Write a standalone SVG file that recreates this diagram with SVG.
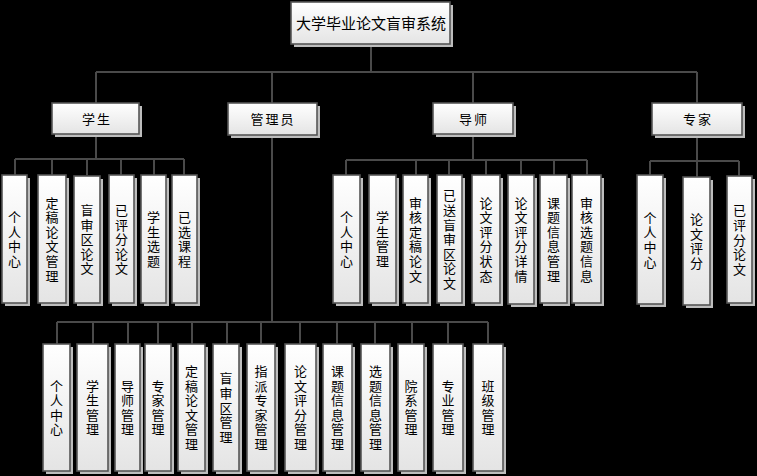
<svg xmlns="http://www.w3.org/2000/svg" width="757" height="476" viewBox="0 0 757 476">
<defs>
<linearGradient id="g" x1="0" y1="0" x2="0" y2="1">
<stop offset="0" stop-color="#ffffff"/>
<stop offset="1" stop-color="#e4e4e4"/>
</linearGradient>
<style>
.sh{fill:#bdbdbd}
.bx{fill:url(#g);stroke:#555;stroke-width:1.6}
.ln{fill:none;stroke:#4a4a4a;stroke-width:2}
text{font-family:"Liberation Sans","Noto Sans CJK SC","Noto Sans CJK JP",sans-serif;fill:#000;text-anchor:middle;dominant-baseline:central}
.t0{font-size:15px}
.t1{font-size:13px;letter-spacing:2px}
.t2{font-size:13px}
</style>
</defs>
<rect width="757" height="476" fill="#000"/>
<g id="connectors" class="ln">
<path d="M371 44V72M96 72H697M96 72V103M272 72V103M473 72V103M697 72V103"/>
<path d="M96 134V159M15 159H184M15 159V175M52 159V175M87 159V175M121 159V175M154 159V175M184 159V175"/>
<path d="M272 135V322M57 322H488M57 322V344M93 322V344M128 322V344M158 322V344M192 322V344M227 322V344M261 322V344M300 322V344M337 322V344M375 322V344M412 322V344M448 322V344M488 322V344"/>
<path d="M473 134V160M346 160H587M346 160V175M416 160V175M449 160V175M486 160V175M521 160V175M554 160V175M587 160V175"/>
<path d="M697 135V161M650 161H739M650 161V175M697 161V177M739 161V176"/>
</g>
<g id="root"><rect class="sh" x="294" y="5" width="159" height="42"/><rect class="bx" x="291" y="2" width="159" height="42"/><text class="t0" x="371" y="23">大学毕业论文盲审系统</text></g>
<g id="student"><rect class="sh" x="55" y="106" width="87" height="31"/><rect class="bx" x="52" y="103" width="87" height="31"/><text class="t1" x="97" y="119">学生</text></g>
<g id="admin"><rect class="sh" x="231" y="106" width="89" height="32"/><rect class="bx" x="228" y="103" width="89" height="32"/><text class="t1" x="273" y="119">管理员</text></g>
<g id="tutor"><rect class="sh" x="436" y="106" width="80" height="31"/><rect class="bx" x="433" y="103" width="80" height="31"/><text class="t1" x="474" y="119">导师</text></g>
<g id="expert"><rect class="sh" x="655" y="106" width="90" height="32"/><rect class="bx" x="652" y="103" width="90" height="32"/><text class="t1" x="698" y="119">专家</text></g>

<g id="s1"><rect class="sh" x="5" y="178" width="25" height="128"/><rect class="bx" x="2" y="175" width="25" height="128"/><text class="t2"><tspan x="14.5" y="217.2">个</tspan><tspan x="14.5" y="231.8">人</tspan><tspan x="14.5" y="246.4">中</tspan><tspan x="14.5" y="261">心</tspan></text></g>
<g id="s2"><rect class="sh" x="41" y="178" width="28" height="128"/><rect class="bx" x="38" y="175" width="28" height="128"/><text class="t2"><tspan x="52" y="202.6">定</tspan><tspan x="52" y="217.2">稿</tspan><tspan x="52" y="231.8">论</tspan><tspan x="52" y="246.4">文</tspan><tspan x="52" y="261">管</tspan><tspan x="52" y="275.6">理</tspan></text></g>
<g id="s3"><rect class="sh" x="77" y="179" width="26" height="127"/><rect class="bx" x="74" y="176" width="26" height="127"/><text class="t2"><tspan x="87" y="209.9">盲</tspan><tspan x="87" y="224.5">审</tspan><tspan x="87" y="239.1">区</tspan><tspan x="87" y="253.7">论</tspan><tspan x="87" y="268.3">文</tspan></text></g>
<g id="s4"><rect class="sh" x="112" y="178" width="25" height="128"/><rect class="bx" x="109" y="175" width="25" height="128"/><text class="t2"><tspan x="121.5" y="209.9">已</tspan><tspan x="121.5" y="224.5">评</tspan><tspan x="121.5" y="239.1">分</tspan><tspan x="121.5" y="253.7">论</tspan><tspan x="121.5" y="268.3">文</tspan></text></g>
<g id="s5"><rect class="sh" x="144" y="178" width="25" height="128"/><rect class="bx" x="141" y="175" width="25" height="128"/><text class="t2"><tspan x="153.5" y="217.2">学</tspan><tspan x="153.5" y="231.8">生</tspan><tspan x="153.5" y="246.4">选</tspan><tspan x="153.5" y="261">题</tspan></text></g>
<g id="s6"><rect class="sh" x="175" y="178" width="25" height="128"/><rect class="bx" x="172" y="175" width="25" height="128"/><text class="t2"><tspan x="184.5" y="217.2">已</tspan><tspan x="184.5" y="231.8">选</tspan><tspan x="184.5" y="246.4">课</tspan><tspan x="184.5" y="261">程</tspan></text></g>

<g id="t1"><rect class="sh" x="336" y="178" width="27" height="128"/><rect class="bx" x="333" y="175" width="27" height="128"/><text class="t2"><tspan x="346.5" y="217.2">个</tspan><tspan x="346.5" y="231.8">人</tspan><tspan x="346.5" y="246.4">中</tspan><tspan x="346.5" y="261">心</tspan></text></g>
<g id="t2"><rect class="sh" x="372" y="178" width="27" height="128"/><rect class="bx" x="369" y="175" width="27" height="128"/><text class="t2"><tspan x="382.5" y="217.2">学</tspan><tspan x="382.5" y="231.8">生</tspan><tspan x="382.5" y="246.4">管</tspan><tspan x="382.5" y="261">理</tspan></text></g>
<g id="t3"><rect class="sh" x="406" y="178" width="25" height="128"/><rect class="bx" x="403" y="175" width="25" height="128"/><text class="t2"><tspan x="415.5" y="202.6">审</tspan><tspan x="415.5" y="217.2">核</tspan><tspan x="415.5" y="231.8">定</tspan><tspan x="415.5" y="246.4">稿</tspan><tspan x="415.5" y="261">论</tspan><tspan x="415.5" y="275.6">文</tspan></text></g>
<g id="t4"><rect class="sh" x="440" y="178" width="25" height="128"/><rect class="bx" x="437" y="175" width="25" height="128"/><text class="t2"><tspan x="449.5" y="195.3">已</tspan><tspan x="449.5" y="209.9">送</tspan><tspan x="449.5" y="224.5">盲</tspan><tspan x="449.5" y="239.1">审</tspan><tspan x="449.5" y="253.7">区</tspan><tspan x="449.5" y="268.3">论</tspan><tspan x="449.5" y="282.9">文</tspan></text></g>
<g id="t5"><rect class="sh" x="475" y="178" width="28" height="128"/><rect class="bx" x="472" y="175" width="28" height="128"/><text class="t2"><tspan x="486" y="202.6">论</tspan><tspan x="486" y="217.2">文</tspan><tspan x="486" y="231.8">评</tspan><tspan x="486" y="246.4">分</tspan><tspan x="486" y="261">状</tspan><tspan x="486" y="275.6">态</tspan></text></g>
<g id="t6"><rect class="sh" x="511" y="178" width="26" height="129"/><rect class="bx" x="508" y="175" width="26" height="129"/><text class="t2"><tspan x="521" y="202.6">论</tspan><tspan x="521" y="217.2">文</tspan><tspan x="521" y="231.8">评</tspan><tspan x="521" y="246.4">分</tspan><tspan x="521" y="261">详</tspan><tspan x="521" y="275.6">情</tspan></text></g>
<g id="t7"><rect class="sh" x="543" y="178" width="27" height="128"/><rect class="bx" x="540" y="175" width="27" height="128"/><text class="t2"><tspan x="553.5" y="202.6">课</tspan><tspan x="553.5" y="217.2">题</tspan><tspan x="553.5" y="231.8">信</tspan><tspan x="553.5" y="246.4">息</tspan><tspan x="553.5" y="261">管</tspan><tspan x="553.5" y="275.6">理</tspan></text></g>
<g id="t8"><rect class="sh" x="575" y="178" width="29" height="128"/><rect class="bx" x="572" y="175" width="29" height="128"/><text class="t2"><tspan x="586.5" y="202.6">审</tspan><tspan x="586.5" y="217.2">核</tspan><tspan x="586.5" y="231.8">选</tspan><tspan x="586.5" y="246.4">题</tspan><tspan x="586.5" y="261">信</tspan><tspan x="586.5" y="275.6">息</tspan></text></g>

<g id="e1"><rect class="sh" x="640" y="178" width="26" height="129"/><rect class="bx" x="637" y="175" width="26" height="129"/><text class="t2"><tspan x="650" y="217.7">个</tspan><tspan x="650" y="232.3">人</tspan><tspan x="650" y="246.9">中</tspan><tspan x="650" y="261.5">心</tspan></text></g>
<g id="e2"><rect class="sh" x="686" y="180" width="27" height="128"/><rect class="bx" x="683" y="177" width="27" height="128"/><text class="t2"><tspan x="696.5" y="219.2">论</tspan><tspan x="696.5" y="233.8">文</tspan><tspan x="696.5" y="248.4">评</tspan><tspan x="696.5" y="263">分</tspan></text></g>
<g id="e3"><rect class="sh" x="730" y="179" width="25" height="127"/><rect class="bx" x="727" y="176" width="25" height="127"/><text class="t2"><tspan x="739.5" y="210.4">已</tspan><tspan x="739.5" y="225">评</tspan><tspan x="739.5" y="239.6">分</tspan><tspan x="739.5" y="254.2">论</tspan><tspan x="739.5" y="268.8">文</tspan></text></g>

<g id="a1"><rect class="sh" x="46" y="347" width="27" height="127"/><rect class="bx" x="43" y="344" width="27" height="127"/><text class="t2"><tspan x="56.5" y="385.6">个</tspan><tspan x="56.5" y="400.2">人</tspan><tspan x="56.5" y="414.8">中</tspan><tspan x="56.5" y="429.4">心</tspan></text></g>
<g id="a2"><rect class="sh" x="80" y="347" width="31" height="127"/><rect class="bx" x="77" y="344" width="31" height="127"/><text class="t2"><tspan x="92.5" y="385.6">学</tspan><tspan x="92.5" y="400.2">生</tspan><tspan x="92.5" y="414.8">管</tspan><tspan x="92.5" y="429.4">理</tspan></text></g>
<g id="a3"><rect class="sh" x="118" y="347" width="25" height="127"/><rect class="bx" x="115" y="344" width="25" height="127"/><text class="t2"><tspan x="127.5" y="385.6">导</tspan><tspan x="127.5" y="400.2">师</tspan><tspan x="127.5" y="414.8">管</tspan><tspan x="127.5" y="429.4">理</tspan></text></g>
<g id="a4"><rect class="sh" x="148" y="347" width="26" height="127"/><rect class="bx" x="145" y="344" width="26" height="127"/><text class="t2"><tspan x="158" y="385.6">专</tspan><tspan x="158" y="400.2">家</tspan><tspan x="158" y="414.8">管</tspan><tspan x="158" y="429.4">理</tspan></text></g>
<g id="a5"><rect class="sh" x="181" y="347" width="27" height="127"/><rect class="bx" x="178" y="344" width="27" height="127"/><text class="t2"><tspan x="191.5" y="371">定</tspan><tspan x="191.5" y="385.6">稿</tspan><tspan x="191.5" y="400.2">论</tspan><tspan x="191.5" y="414.8">文</tspan><tspan x="191.5" y="429.4">管</tspan><tspan x="191.5" y="444">理</tspan></text></g>
<g id="a6"><rect class="sh" x="216" y="347" width="26" height="127"/><rect class="bx" x="213" y="344" width="26" height="127"/><text class="t2"><tspan x="226" y="378.3">盲</tspan><tspan x="226" y="392.9">审</tspan><tspan x="226" y="407.5">区</tspan><tspan x="226" y="422.1">管</tspan><tspan x="226" y="436.7">理</tspan></text></g>
<g id="a7"><rect class="sh" x="250" y="347" width="28" height="127"/><rect class="bx" x="247" y="344" width="28" height="127"/><text class="t2"><tspan x="261" y="371">指</tspan><tspan x="261" y="385.6">派</tspan><tspan x="261" y="400.2">专</tspan><tspan x="261" y="414.8">家</tspan><tspan x="261" y="429.4">管</tspan><tspan x="261" y="444">理</tspan></text></g>
<g id="a8"><rect class="sh" x="288" y="347" width="31" height="127"/><rect class="bx" x="285" y="344" width="31" height="127"/><text class="t2"><tspan x="300.5" y="371">论</tspan><tspan x="300.5" y="385.6">文</tspan><tspan x="300.5" y="400.2">评</tspan><tspan x="300.5" y="414.8">分</tspan><tspan x="300.5" y="429.4">管</tspan><tspan x="300.5" y="444">理</tspan></text></g>
<g id="a9"><rect class="sh" x="326" y="347" width="29" height="127"/><rect class="bx" x="323" y="344" width="29" height="127"/><text class="t2"><tspan x="337.5" y="371">课</tspan><tspan x="337.5" y="385.6">题</tspan><tspan x="337.5" y="400.2">信</tspan><tspan x="337.5" y="414.8">息</tspan><tspan x="337.5" y="429.4">管</tspan><tspan x="337.5" y="444">理</tspan></text></g>
<g id="a10"><rect class="sh" x="364" y="347" width="29" height="127"/><rect class="bx" x="361" y="344" width="29" height="127"/><text class="t2"><tspan x="375.5" y="371">选</tspan><tspan x="375.5" y="385.6">题</tspan><tspan x="375.5" y="400.2">信</tspan><tspan x="375.5" y="414.8">息</tspan><tspan x="375.5" y="429.4">管</tspan><tspan x="375.5" y="444">理</tspan></text></g>
<g id="a11"><rect class="sh" x="401" y="347" width="26" height="127"/><rect class="bx" x="398" y="344" width="26" height="127"/><text class="t2"><tspan x="411" y="385.6">院</tspan><tspan x="411" y="400.2">系</tspan><tspan x="411" y="414.8">管</tspan><tspan x="411" y="429.4">理</tspan></text></g>
<g id="a12"><rect class="sh" x="436" y="347" width="30" height="127"/><rect class="bx" x="433" y="344" width="30" height="127"/><text class="t2"><tspan x="448" y="385.6">专</tspan><tspan x="448" y="400.2">业</tspan><tspan x="448" y="414.8">管</tspan><tspan x="448" y="429.4">理</tspan></text></g>
<g id="a13"><rect class="sh" x="476" y="347" width="30" height="127"/><rect class="bx" x="473" y="344" width="30" height="127"/><text class="t2"><tspan x="488" y="385.6">班</tspan><tspan x="488" y="400.2">级</tspan><tspan x="488" y="414.8">管</tspan><tspan x="488" y="429.4">理</tspan></text></g>
</svg>
